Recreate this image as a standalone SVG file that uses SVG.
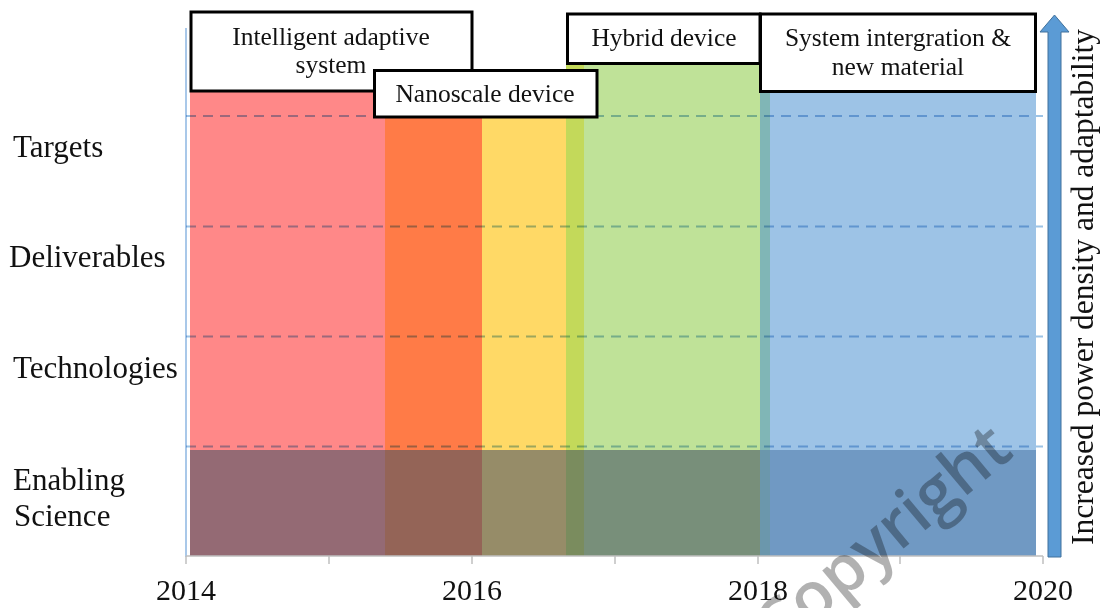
<svg xmlns="http://www.w3.org/2000/svg" width="1103" height="608" viewBox="0 0 1103 608">
  <style>
    .lbl { font-family: "Liberation Serif", "Times New Roman", serif; font-size: 31px; fill: #111; }
    .side { font-family: "Liberation Serif", "Times New Roman", serif; font-size: 31.5px; fill: #111; text-anchor: middle; }
    .box-text { font-family: "Liberation Serif", "Times New Roman", serif; font-size: 25.5px; fill: #111; text-anchor: middle; }
    .yr { font-family: "Liberation Serif", "Times New Roman", serif; font-size: 30px; fill: #111; text-anchor: middle; }
    .box { fill: #fff; stroke: #000; stroke-width: 3; }
    .grid { stroke: #5B9BD5; stroke-width: 2; stroke-dasharray: 10 7; opacity: 0.6; mix-blend-mode: multiply; }
    .tick { stroke: #BFBFBF; stroke-width: 1.5; }
    .wm { font-family: "Open Sans", "DejaVu Sans", sans-serif; font-size: 66px; font-weight: 600; fill: #000; opacity: 0.3; }
  </style>

  <rect width="1103" height="608" fill="#fff"/>

  <!-- timeline bands -->
  <g id="bands">
    <rect x="190" y="92" width="195" height="358" fill="#FF8888"/>
    <rect x="385" y="92" width="97" height="358" fill="#FF7B47"/>
    <rect x="482" y="92" width="84" height="358" fill="#FFD966"/>
    <rect x="566" y="62" width="18" height="388" fill="#C3D95A"/>
    <rect x="584" y="62" width="176" height="388" fill="#BFE298"/>
    <rect x="760" y="92" width="10" height="358" fill="#80B6B6"/>
    <rect x="770" y="92" width="266" height="358" fill="#9DC3E6"/>
    <!-- enabling science row -->
    <rect x="190" y="450" width="195" height="106" fill="#946A74"/>
    <rect x="385" y="450" width="97" height="106" fill="#946457"/>
    <rect x="482" y="450" width="84" height="106" fill="#968C68"/>
    <rect x="566" y="450" width="18" height="106" fill="#7A8C5E"/>
    <rect x="584" y="450" width="176" height="106" fill="#788F7A"/>
    <rect x="760" y="450" width="10" height="106" fill="#6B97AC"/>
    <rect x="770" y="450" width="266" height="106" fill="#7099C3"/>
  </g>

  <!-- axes and row separators -->
  <g id="axes">
    <line x1="186" y1="28" x2="186" y2="557" stroke="#8DB6E2" stroke-width="1.5"/>
    <line x1="186" y1="556" x2="1043" y2="556" class="tick"/>
    <line x1="186" y1="556" x2="186" y2="564" class="tick"/>
    <line x1="329" y1="556" x2="329" y2="564" class="tick"/>
    <line x1="472" y1="556" x2="472" y2="564" class="tick"/>
    <line x1="615" y1="556" x2="615" y2="564" class="tick"/>
    <line x1="758" y1="556" x2="758" y2="564" class="tick"/>
    <line x1="900" y1="556" x2="900" y2="564" class="tick"/>
    <line x1="1043" y1="556" x2="1043" y2="564" class="tick"/>
    <line x1="186" y1="116" x2="1043" y2="116" class="grid"/>
    <line x1="186" y1="226.5" x2="1043" y2="226.5" class="grid"/>
    <line x1="186" y1="336.5" x2="1043" y2="336.5" class="grid"/>
    <line x1="186" y1="446.5" x2="1043" y2="446.5" class="grid"/>
  </g>

  <!-- year labels -->
  <g id="years">
    <text class="yr" x="186" y="600">2014</text>
    <text class="yr" x="472" y="600">2016</text>
    <text class="yr" x="758" y="600">2018</text>
    <text class="yr" x="1043" y="600">2020</text>
  </g>

  <!-- row labels -->
  <g id="row-targets"><text class="lbl" x="13" y="157">Targets</text></g>
  <g id="row-deliverables"><text class="lbl" x="9" y="267">Deliverables</text></g>
  <g id="row-technologies"><text class="lbl" x="13" y="378">Technologies</text></g>
  <g id="row-enabling"><text class="lbl" x="13" y="490">Enabling</text><text class="lbl" x="14" y="526">Science</text></g>

  <!-- milestone boxes -->
  <g id="node-intelligent">
    <rect class="box" x="191" y="12" width="281" height="79"/>
    <text class="box-text" x="331" y="45">Intelligent adaptive</text>
    <text class="box-text" x="331" y="73">system</text>
  </g>
  <g id="node-hybrid">
    <rect class="box" x="567.5" y="14" width="192.5" height="49.5"/>
    <text class="box-text" x="664" y="46">Hybrid device</text>
  </g>
  <g id="node-system">
    <rect class="box" x="760.5" y="14" width="275" height="77.5"/>
    <text class="box-text" x="898" y="46">System intergration &amp;</text>
    <text class="box-text" x="898" y="75">new material</text>
  </g>
  <g id="node-nanoscale">
    <rect class="box" x="374.5" y="70.5" width="222.5" height="46.5"/>
    <text class="box-text" x="485" y="102">Nanoscale device</text>
  </g>

  <!-- trend arrow -->
  <g id="connectors">
    <path d="M1048,557 L1048,32 L1040,32 L1054.5,15 L1069,32 L1061,32 L1061,557 Z" fill="#5B9BD5" stroke="#41719C" stroke-width="1"/>
  </g>
  <g id="node-trend">
    <text class="side" transform="translate(1093,287) rotate(-90)">Increased power density and adaptability</text>
  </g>

  <!-- watermark -->
  <text class="wm" transform="translate(778,654) rotate(-40)">Copyright</text>
</svg>
